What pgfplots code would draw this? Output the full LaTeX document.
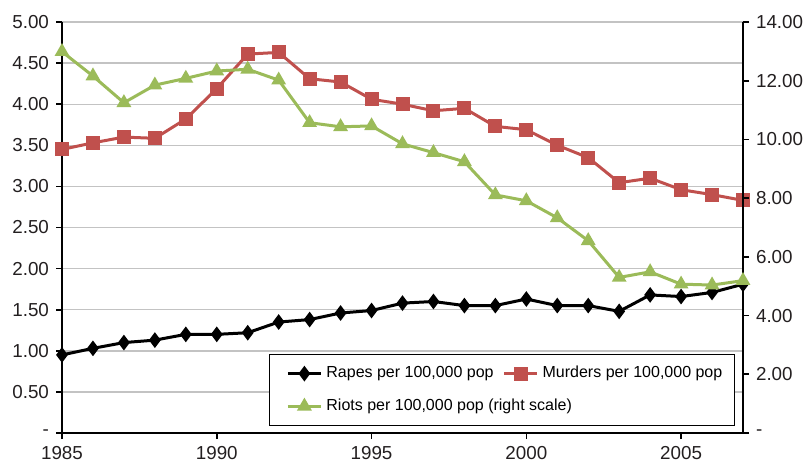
\documentclass[border=0pt]{standalone}
\usepackage{pgfplots}
\pgfplotsset{compat=1.18}
\usepackage{fontspec}
\setmainfont{Liberation Sans}
\definecolor{mred}{RGB}{192,80,77}
\definecolor{mgreen}{RGB}{155,187,89}
\definecolor{gridgray}{RGB}{195,195,195}
\definecolor{txt}{RGB}{35,31,32}
\begin{document}
\begin{tikzpicture}
\pgfplotsset{
  common/.style={
    scale only axis, width=340.5pt, height=205.5pt,
    xmin=1985, xmax=2007, clip=false,
    tick label style={font=\fontsize{9.4}{11}\selectfont, text=txt},
    /pgf/number format/assume math mode=true,
    tick align=outside, major tick length=3pt,
    every tick/.style={black, line width=0.8pt},
    axis line style={line width=1pt, black},
  }
}
\begin{axis}[common,
  axis x line*=bottom, axis y line*=left,
  ymin=0, ymax=5,
  ytick={0,0.5,1,1.5,2,2.5,3,3.5,4,4.5,5},
  yticklabels={-,0.50,1.00,1.50,2.00,2.50,3.00,3.50,4.00,4.50,5.00},
  xtick={1985,1990,1995,2000,2005},
  xticklabels={1985,1990,1995,2000,2005},
  ymajorgrids, grid style={gridgray, line width=0.7pt},
  legend columns=2,
  legend cell align=left,
  legend image code/.code={\path (0pt,0pt);
    \draw[mark repeat=2,mark phase=2] plot coordinates {(4.5pt,0pt) (12.75pt,0pt) (21pt,0pt)};},
  legend style={at={(rel axis cs:0.988,0.017)}, anchor=south east,
    draw=black, line width=0.5pt, fill=white,
    font=\fontsize{8}{10}\selectfont,
    /tikz/every even column/.append style={column sep=-2pt},
    inner xsep=4pt, inner ysep=4pt, row sep=5pt},
]
\addplot[black, line width=1.5pt, mark=diamond*, mark size=2.7pt] coordinates {
(1985,0.95) (1986,1.03) (1987,1.10) (1988,1.13) (1989,1.20) (1990,1.20)
(1991,1.22) (1992,1.35) (1993,1.38) (1994,1.46) (1995,1.49) (1996,1.58)
(1997,1.60) (1998,1.55) (1999,1.55) (2000,1.63) (2001,1.55) (2002,1.55)
(2003,1.48) (2004,1.68) (2005,1.66) (2006,1.71) (2007,1.81)};
\addlegendentry{Rapes per 100,000 pop}
\addplot[mred, line width=1.5pt, mark=square*, mark size=2.75pt] coordinates {
(1985,3.45) (1986,3.53) (1987,3.60) (1988,3.585) (1989,3.82) (1990,4.19)
(1991,4.61) (1992,4.63) (1993,4.31) (1994,4.27) (1995,4.06) (1996,4.00)
(1997,3.92) (1998,3.95) (1999,3.73) (2000,3.69) (2001,3.50) (2002,3.35)
(2003,3.045) (2004,3.10) (2005,2.96) (2006,2.90) (2007,2.83)};
\addlegendentry{Murders per 100,000 pop}
\addlegendimage{mgreen, line width=1.5pt, mark=triangle*, mark size=2.8pt}
\addlegendentry{\makebox[0pt][l]{Riots per 100,000 pop (right scale)}}
\end{axis}
\begin{axis}[common,
  axis y line*=right, axis x line=none,
  ymin=0, ymax=14,
  ytick={0,2,4,6,8,10,12,14},
  yticklabels={-,2.00,4.00,6.00,8.00,10.00,12.00,14.00},
]
\addplot[mgreen, line width=1.5pt, mark=triangle*, mark size=2.8pt] coordinates {
(1985,12.99) (1986,12.16) (1987,11.25) (1988,11.85) (1989,12.08) (1990,12.33)
(1991,12.39) (1992,12.02) (1993,10.57) (1994,10.43) (1995,10.46) (1996,9.85)
(1997,9.55) (1998,9.24) (1999,8.11) (2000,7.91) (2001,7.33) (2002,6.55)
(2003,5.30) (2004,5.49) (2005,5.07) (2006,5.04) (2007,5.19)};
\end{axis}
\pgfresetboundingbox
\path[use as bounding box] ([shift={(-31pt,-14.5pt)}]current axis.south west) rectangle ([shift={(30pt,11pt)}]current axis.north east);
\end{tikzpicture}
\end{document}
